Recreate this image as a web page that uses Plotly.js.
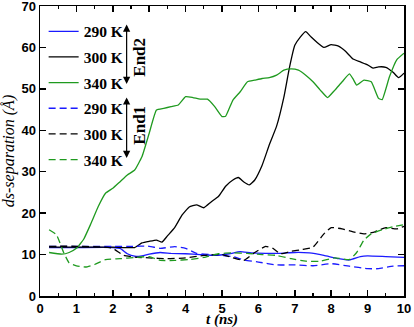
<!DOCTYPE html>
<html>
<head>
<meta charset="utf-8">
<script src="https://cdn.plot.ly/plotly-3.0.1.min.js"></script>
<style>
  html, body { margin: 0; padding: 0; background: #fff; }
  #chart { width: 414px; height: 327px; }
</style>
</head>
<body>
<div id="chart"></div>
<script>
// End2, solid lines
const tEnd2Blue = [0.25, 1, 2, 2.2, 2.4, 2.6, 2.8, 3, 3.3, 3.6, 4, 4.4, 4.8, 5.2, 5.5, 5.8, 6.2, 6.6, 7, 7.4, 7.8, 8.2, 8.5, 8.8, 9, 9.5, 10];
const sepEnd2Blue = [11.7, 11.7, 11.7, 11.5, 10.2, 9.6, 9.7, 10.1, 10.5, 10.3, 10.2, 10.0, 9.8, 10.2, 10.7, 10.4, 10.3, 10.3, 10.5, 10.4, 9.8, 9.0, 8.7, 9.5, 9.7, 9.5, 9.3];

const tEnd2Black = [0.25, 1, 2, 2.6, 2.8, 3, 3.2, 3.35, 3.5, 3.7, 3.9, 4.1, 4.3, 4.5, 4.7, 4.9, 5.1, 5.3, 5.45, 5.6, 5.75, 5.9, 6.1, 6.3, 6.5, 6.7, 6.85, 7, 7.15, 7.3, 7.45, 7.6, 7.8, 8, 8.2, 8.4, 8.6, 8.8, 9, 9.15, 9.3, 9.5, 9.7, 9.85, 10];
const sepEnd2Black = [11.8, 11.8, 11.8, 11.7, 12.8, 13.2, 13.5, 13.0, 14.5, 16.5, 19.5, 21.5, 22.0, 21.3, 22.7, 24.0, 26.5, 28.0, 28.6, 27.5, 26.8, 28.0, 31.5, 36.5, 41.0, 48.0, 55.0, 60.5, 62.5, 63.8, 62.5, 61.3, 60.0, 60.7, 60.3, 59.0, 57.2, 56.5, 55.8, 55.0, 55.3, 55.2, 54.0, 52.7, 53.8];

const tEnd2Green = [0.25, 0.6, 0.8, 1, 1.2, 1.4, 1.6, 1.8, 2, 2.2, 2.4, 2.6, 2.8, 3, 3.2, 3.4, 3.6, 3.8, 4, 4.2, 4.4, 4.6, 4.8, 5, 5.1, 5.3, 5.5, 5.7, 5.9, 6.1, 6.3, 6.5, 6.7, 6.9, 7.1, 7.3, 7.5, 7.7, 7.9, 8.1, 8.3, 8.5, 8.6, 8.7, 8.9, 9.1, 9.3, 9.4, 9.6, 9.8, 10];
const sepEnd2Green = [10.5, 10.1, 10.5, 11.5, 13.7, 17.5, 21.6, 24.8, 26.0, 27.6, 29.2, 30.4, 33.6, 39.3, 44.9, 45.3, 45.7, 46.1, 48.1, 47.9, 47.5, 47.5, 45.7, 43.3, 43.4, 47.3, 49.3, 51.7, 52.1, 52.5, 52.7, 53.3, 54.5, 54.8, 54.5, 53.3, 51.7, 49.7, 47.9, 49.7, 51.7, 53.6, 52.4, 50.9, 52.1, 51.7, 47.7, 47.4, 52.9, 57.0, 58.6];

// End1, dashed lines
const tEnd1Blue = [0.25, 1, 2, 2.5, 3, 3.3, 3.7, 4, 4.3, 4.7, 5, 5.3, 5.6, 6, 6.5, 7, 7.5, 8, 8.5, 9, 9.3, 9.7, 10];
const sepEnd1Blue = [12.0, 12.0, 12.0, 12.0, 12.0, 11.5, 11.9, 11.5, 10.3, 10.0, 9.8, 9.5, 8.7, 8.2, 7.5, 7.5, 7.3, 7.8, 7.2, 6.6, 6.6, 7.2, 7.3];

const tEnd1Black = [0.25, 1, 1.8, 2, 2.3, 2.6, 3, 3.5, 4, 4.5, 5, 5.3, 5.6, 5.9, 6.2, 6.4, 6.6, 6.9, 7.2, 7.5, 7.8, 8, 8.3, 8.6, 8.9, 9.2, 9.5, 9.8, 10];
const sepEnd1Black = [12.0, 12.0, 11.8, 11.5, 9.8, 9.4, 9.2, 9.0, 9.2, 9.8, 10.0, 9.2, 8.6, 10.5, 12.0, 11.5, 10.2, 10.8, 11.2, 11.8, 15.0, 16.5, 16.2, 15.5, 15.0, 15.5, 16.5, 16.2, 16.8];

const tEnd1Green = [0.25, 0.45, 0.65, 0.8, 1, 1.25, 1.5, 1.8, 2.2, 2.6, 3, 3.3, 3.7, 4.1, 4.5, 4.9, 5.3, 5.7, 6.1, 6.5, 6.9, 7.3, 7.7, 8.1, 8.5, 8.7, 8.9, 9.1, 9.4, 9.7, 10];
const sepEnd1Green = [16.0, 14.8, 10.5, 8.0, 7.3, 7.0, 7.6, 8.8, 9.0, 9.3, 9.5, 8.6, 8.6, 8.8, 9.3, 10.2, 10.4, 10.3, 10.0, 9.8, 9.0, 8.4, 8.4, 9.2, 8.8, 10.5, 13.5, 15.0, 16.0, 16.7, 17.2];

const blue = "#1a1aff";
const black = "#000000";
const green = "#1f9a1f";
const serif = "Liberation Serif, Times New Roman, serif";
const sans = "Liberation Sans, Arial, sans-serif";

function series(x, y, name, color, dashed, group) {
  return {
    x: x,
    y: y,
    type: "scatter",
    mode: "lines",
    name: name,
    legendgroup: group,
    line: { color: color, width: 1.3, dash: dashed ? "7px,4px" : "solid", shape: "spline", smoothing: 0.4 }
  };
}

const traces = [
  series(tEnd2Blue, sepEnd2Blue, "290 K", blue, false, "a"),
  series(tEnd2Black, sepEnd2Black, "300 K", black, false, "b"),
  series(tEnd2Green, sepEnd2Green, "340 K", green, false, "c"),
  series(tEnd1Blue, sepEnd1Blue, "290 K", blue, true, "d"),
  series(tEnd1Black, sepEnd1Black, "300 K", black, true, "e"),
  series(tEnd1Green, sepEnd1Green, "340 K", green, true, "f")
];

const axisBase = {
  showline: true,
  linecolor: "#000",
  linewidth: 1.5,
  mirror: "allticks",
  ticks: "inside",
  ticklen: 6,
  tickwidth: 1.5,
  tickcolor: "#000",
  showgrid: false,
  zeroline: false,
  ticklabeloverflow: "allow",
  tickfont: { family: sans, size: 13, color: "#000", weight: 700 }
};

// arrows for the End2 / End1 brackets next to the legend
const arrowStyle = { xref: "x", yref: "y", axref: "x", ayref: "y", text: "", showarrow: true, arrowside: "end+start", arrowhead: 2, arrowsize: 1.2, arrowwidth: 1.2, arrowcolor: "#000" };
const endFont = { family: serif, size: 17, color: "#000", weight: 700 };

const layout = {
  width: 414,
  height: 327,
  margin: { l: 40, r: 10, t: 6, b: 31 },
  paper_bgcolor: "#fff",
  plot_bgcolor: "#fff",
  showlegend: true,
  legend: {
    x: 0.01,
    y: 0.97,
    xanchor: "left",
    yanchor: "top",
    traceorder: "grouped",
    tracegroupgap: 2.5,
    bgcolor: "rgba(0,0,0,0)",
    font: { family: serif, size: 15.5, color: "#000", weight: 700 }
  },
  xaxis: Object.assign({}, axisBase, {
    range: [0, 10],
    dtick: 1,
    minor: { dtick: 0.5, ticks: "inside", ticklen: 3, tickwidth: 1.2, tickcolor: "#000", showgrid: false }
  }),
  yaxis: Object.assign({}, axisBase, {
    range: [0, 70],
    dtick: 10,
    title: { text: "ds-separation (Å)", standoff: 6, font: { family: serif, size: 16, color: "#000", style: "italic" } }
  }),
  annotations: [
    Object.assign({ x: 2.38, y: 51.2, ax: 2.38, ay: 65.9 }, arrowStyle),
    Object.assign({ x: 2.38, y: 33.3, ax: 2.38, ay: 48.3 }, arrowStyle),
    { x: 2.74, y: 57.7, xref: "x", yref: "y", text: "End2", showarrow: false, textangle: -90, font: endFont },
    { x: 2.74, y: 41.3, xref: "x", yref: "y", text: "End1", showarrow: false, textangle: -90, font: endFont },
    // x axis title, kept low so it clears the tick labels
    { x: 0.5, y: -0.107, xref: "paper", yref: "paper", xanchor: "center", yanchor: "bottom", yshift: -2, borderpad: 0, text: "t (ns)", showarrow: false, font: { family: serif, size: 15, color: "#000", style: "italic", weight: 700 } }
  ]
};

Plotly.newPlot("chart", traces, layout, { displayModeBar: false, staticPlot: true });
</script>
</body>
</html>
